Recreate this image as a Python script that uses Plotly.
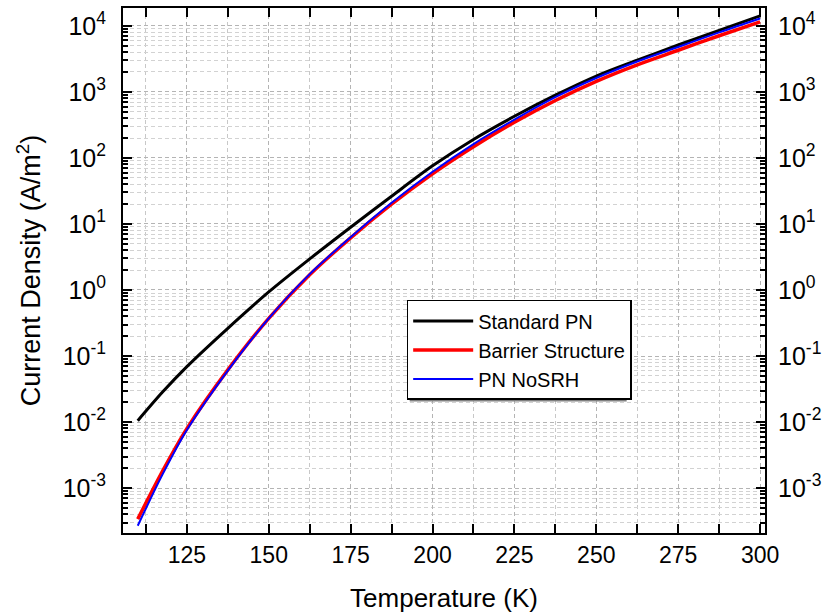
import plotly.graph_objects as go

temperature = [110, 117.5, 125, 137.5, 150, 162.5, 175, 187.5, 200, 212.5, 225, 237.5, 250, 262.5, 275, 287.5, 300]
log_standard_pn = [-1.98, -1.55, -1.16, -0.58, -0.03, 0.47, 0.95, 1.42, 1.88, 2.28, 2.63, 2.95, 3.24, 3.48, 3.71, 3.93, 4.15]
log_barrier = [-3.47, -2.75, -2.10, -1.21, -0.43, 0.23, 0.79, 1.30, 1.76, 2.17, 2.54, 2.87, 3.16, 3.41, 3.63, 3.85, 4.06]
log_pn_nosrh = [-3.57, -2.80, -2.12, -1.22, -0.43, 0.24, 0.80, 1.32, 1.79, 2.21, 2.58, 2.92, 3.21, 3.46, 3.68, 3.90, 4.11]

standard_pn = [10 ** v for v in log_standard_pn]
barrier = [10 ** v for v in log_barrier]
pn_nosrh = [10 ** v for v in log_pn_nosrh]

ytick_vals = [1e-3, 1e-2, 1e-1, 1e0, 1e1, 1e2, 1e3, 1e4]
ytick_text = ["10<sup>-3</sup>", "10<sup>-2</sup>", "10<sup>-1</sup>", "10<sup>0</sup>",
              "10<sup>1</sup>", "10<sup>2</sup>", "10<sup>3</sup>", "10<sup>4</sup>"]
xtick_vals = [125, 150, 175, 200, 225, 250, 275, 300]

FONT = "Arial, Liberation Sans, sans-serif"
yrange = [-3.68, 4.27]
xrange = [105.5, 301.5]

fig = go.Figure()
fig.add_trace(go.Scatter(x=temperature, y=standard_pn, mode="lines", name="Standard PN",
                         line=dict(color="black", width=3, shape="spline", smoothing=0.9)))
fig.add_trace(go.Scatter(x=temperature, y=barrier, mode="lines", name="Barrier Structure",
                         line=dict(color="#ff0000", width=3.5, shape="spline", smoothing=0.9)))
fig.add_trace(go.Scatter(x=temperature, y=pn_nosrh, mode="lines", name="PN NoSRH",
                         line=dict(color="#0000ff", width=2, shape="spline", smoothing=0.9)))
# invisible trace to activate the right-hand axis
fig.add_trace(go.Scatter(x=temperature, y=pn_nosrh, mode="lines", yaxis="y2", showlegend=False,
                         hoverinfo="skip", line=dict(color="rgba(0,0,0,0)", width=0)))

W, H = 827, 615
ML, MR, MT, MB = 123, 59, 6, 82
pw, ph = W - ML - MR, H - MT - MB


def px_x(p):
    return (p - ML) / pw


def px_y(p):
    return (H - MB - p) / ph


# legend drop shadow
fig.add_shape(type="rect", xref="paper", yref="paper",
              x0=px_x(411), x1=px_x(629), y0=px_y(401), y1=px_y(302),
              fillcolor="#808080", line=dict(width=0), layer="above")

fig.update_layout(
    width=W, height=H,
    margin=dict(l=ML, r=MR, t=MT, b=MB),
    paper_bgcolor="white", plot_bgcolor="white",
    font=dict(family=FONT, color="black"),
    showlegend=True,
    legend=dict(x=px_x(408), y=px_y(299), xanchor="left", yanchor="top",
                bgcolor="white", bordercolor="black", borderwidth=1.5,
                font=dict(size=20, family=FONT, color="black"),
                tracegroupgap=0, itemwidth=60),
    xaxis=dict(
        range=xrange, tickvals=xtick_vals, ticks="inside", ticklen=9, tickwidth=2,
        tickcolor="black", tickfont=dict(size=23, family=FONT),
        showline=True, linecolor="black", linewidth=2, mirror="allticks",
        zeroline=False, ticklabelstandoff=0,
        showgrid=True, gridcolor="#b4b4b4", griddash="4px,3px", gridwidth=1,
        title=dict(text="Temperature (K)", font=dict(size=26, family=FONT), standoff=22),
        minor=dict(dtick=12.5, tick0=112.5, ticks="inside", ticklen=5, tickwidth=1.5,
                   tickcolor="black", showgrid=True, gridcolor="#c8c8c8", griddash="4px,3px", gridwidth=1),
    ),
    yaxis=dict(
        type="log", range=yrange, tickvals=ytick_vals, ticktext=ytick_text,
        ticks="inside", ticklen=9, tickwidth=2, tickcolor="black",
        tickfont=dict(size=25, family=FONT),
        showline=True, linecolor="black", linewidth=2, mirror="allticks",
        zeroline=False, ticklabelstandoff=10,
        showgrid=True, gridcolor="#b4b4b4", griddash="4px,3px", gridwidth=1,
        title=dict(text="Current Density (A/m<sup>2</sup>)", font=dict(size=27, family=FONT), standoff=14),
        minor=dict(dtick="D1", ticks="inside", ticklen=5, tickwidth=1.5, tickcolor="black",
                   showgrid=True, gridcolor="#d2d2d2", griddash="4px,3px", gridwidth=1),
    ),
    yaxis2=dict(
        type="log", range=yrange, tickvals=ytick_vals, ticktext=ytick_text,
        overlaying="y", side="right", showgrid=False, zeroline=False,
        ticks="", tickfont=dict(size=25, family=FONT), ticklabelstandoff=12,
        showline=False,
    ),
)

fig.write_html("out.html")
